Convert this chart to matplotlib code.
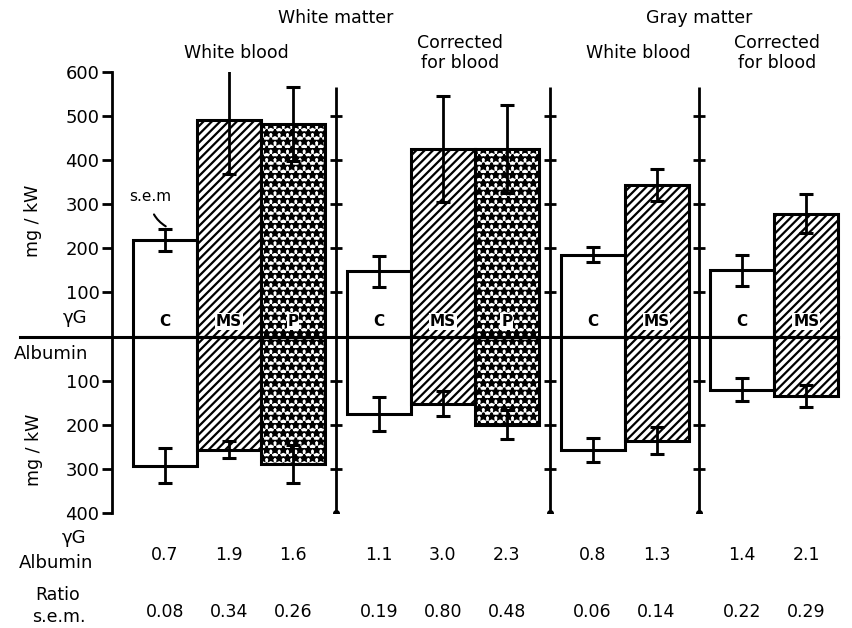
import matplotlib.pyplot as plt
from matplotlib import transforms

# data (mg/kW)
matter = ['White matter', 'Gray matter']
groups = ['White blood', 'Corrected\nfor blood', 'White blood', 'Corrected\nfor blood']
bar_names = [['C', 'MS', 'P'], ['C', 'MS', 'P'], ['C', 'MS'], ['C', 'MS']]

igg = [[218, 490, 482], [148, 425, 425], [186, 343], [150, 279]]
igg_err = [[25, 122, 83], [35, 120, 99], [17, 36], [35, 44]]
albumin = [[293, 256, 289], [175, 152, 200], [257, 236], [120, 134]]
albumin_err = [[40, 19, 43], [38, 28, 33], [27, 30], [25, 25]]

ratio = [0.7, 1.9, 1.6, 1.1, 3.0, 2.3, 0.8, 1.3, 1.4, 2.1]
ratio_sem = [0.08, 0.34, 0.26, 0.19, 0.80, 0.48, 0.06, 0.14, 0.22, 0.29]

yticks = [-400, -300, -200, -100, 0, 100, 200, 300, 400, 500, 600]

styles = {
    'C': dict(facecolor='white', hatch=None),
    'MS': dict(facecolor='white', hatch='////'),
    'P': dict(facecolor='white', hatch='**..'),
}

plt.rcParams['hatch.linewidth'] = 1.6
plt.rcParams['font.family'] = 'DejaVu Sans'

fig = plt.figure(figsize=(8.53, 6.28), dpi=100)
ax = fig.add_axes([0.1313, 0.1831, 0.8687, 0.7023])
ax.set_xlim(0, 11.58)
ax.set_ylim(-400, 600)

# bar layout
width = 1.0
gap = 0.34
starts = []
x = 0.33
for names in bar_names:
    starts.append(x)
    x += len(names) * width + gap

centers = []
for g, names in enumerate(bar_names):
    for i, name in enumerate(names):
        xc = starts[g] + i * width + width / 2
        centers.append(xc)
        st = styles[name]
        for val, err in ((igg[g][i], igg_err[g][i]), (-albumin[g][i], albumin_err[g][i])):
            ax.bar(xc, val, width, facecolor=st['facecolor'], hatch=st['hatch'],
                   edgecolor='black', linewidth=2.2, zorder=2)
            ax.errorbar(xc, val, yerr=err, fmt='none', ecolor='black',
                        elinewidth=2, capsize=5, capthick=2.2, zorder=3)
        bbox = None if name == 'C' else dict(facecolor='white', edgecolor='none', pad=0.5)
        ax.text(xc, 34, name, ha='center', va='center', fontsize=11,
                fontweight='bold', bbox=bbox, zorder=4)

# zero line
last_edge = starts[-1] + len(bar_names[-1]) * width
ax.axhline(0, xmin=-0.124, xmax=last_edge / 11.58, color='black',
           linewidth=2.2, clip_on=False, zorder=5)

# separator scales between groups
for s in starts[1:]:
    xs = s - gap / 2
    ax.vlines(xs, -400, 567, color='black', linewidth=2)
    ax.plot([xs] * 9, yticks[1:10], marker='_', markersize=8,
            markeredgewidth=2, linestyle='none', color='black')
    ax.plot(xs, -400, marker='o', markersize=4, color='black')

# left axis
for side in ['top', 'right', 'bottom']:
    ax.spines[side].set_visible(False)
ax.spines['left'].set_linewidth(2)
ax.spines['left'].set_bounds(-400, 600)
ax.set_xticks([])
ax.set_yticks(yticks)
ax.set_yticklabels(['' if v == 0 else str(abs(v)) for v in yticks], fontsize=13)
ax.tick_params(axis='y', length=7, width=2, pad=2)

# s.e.m. annotation
ax.annotate('s.e.m', xy=(0.84, 250), xytext=(0.6, 318), fontsize=11,
            ha='center', va='center',
            arrowprops=dict(arrowstyle='-', color='black', lw=1.5,
                            connectionstyle='arc3,rad=0.3',
                            shrinkA=6, shrinkB=0))

# headers
trans = transforms.blended_transform_factory(ax.transData, fig.transFigure)
group_centers = [starts[g] + len(n) * width / 2 for g, n in enumerate(bar_names)]
header_shift = [0.11, 0.27, 0.21, 0.04]
for g, label in enumerate(groups):
    ax.text(group_centers[g] + header_shift[g], 0.915, label, transform=trans,
            ha='center', va='center', fontsize=12.5, linespacing=1.15)
for m, label in enumerate(matter):
    xm = (group_centers[2 * m] + group_centers[2 * m + 1]) / 2
    ax.text(xm, 0.971, label, transform=trans, ha='center', va='center',
            fontsize=12.5)

# bottom rows
for xc, r, s in zip(centers, ratio, ratio_sem):
    ax.text(xc, 0.116, f'{r:.1f}', transform=trans, ha='center', va='center',
            fontsize=12.5)
    ax.text(xc, 0.026, f'{s:.2f}', transform=trans, ha='center', va='center',
            fontsize=12.5)

# left-side labels
fig.text(0.088, 0.494, 'γG', ha='center', va='center', fontsize=13)
fig.text(0.103, 0.437, 'Albumin', ha='right', va='center', fontsize=13)
fig.text(0.039, 0.648, 'mg / kW', rotation=90, ha='center', va='center', fontsize=12.5)
fig.text(0.040, 0.284, 'mg / kW', rotation=90, ha='center', va='center', fontsize=12.5)
fig.text(0.087, 0.143, 'γG', ha='center', va='center', fontsize=13)
fig.text(0.066, 0.103, 'Albumin', ha='center', va='center', fontsize=13)
fig.text(0.068, 0.053, 'Ratio', ha='center', va='center', fontsize=12.5)
fig.text(0.069, 0.017, 's.e.m.', ha='center', va='center', fontsize=12.5)

fig.savefig('out.png', dpi=100)
